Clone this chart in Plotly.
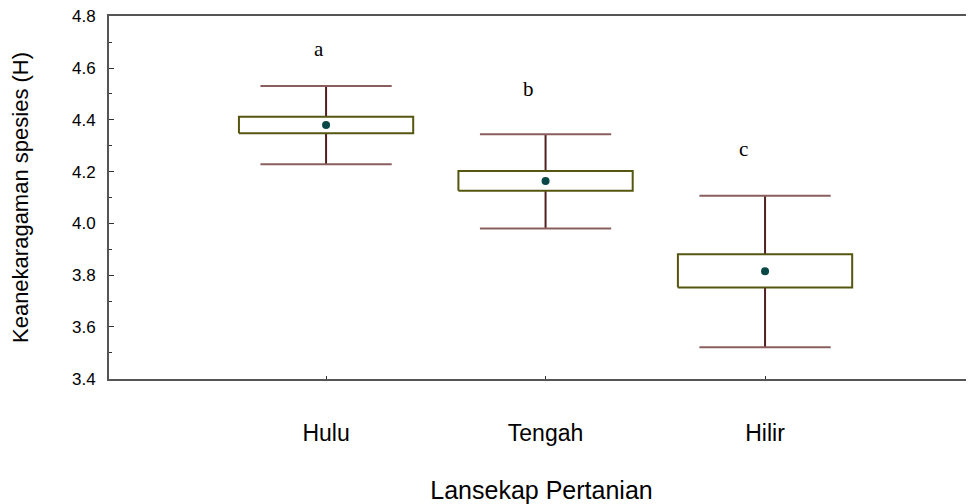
import plotly.graph_objects as go

categories = ["Hulu", "Tengah", "Hilir"]
means = [4.380, 4.164, 3.815]
box_low = [4.348, 4.126, 3.752]
box_high = [4.412, 4.202, 3.881]
whisker_low = [4.228, 3.980, 3.522]
whisker_high = [4.531, 4.344, 4.107]
letters = ["a", "b", "c"]
letter_x = [0.968, 1.923, 2.900]
letter_y = [4.673, 4.518, 4.287]
y_ticks = [3.4, 3.6, 3.8, 4.0, 4.2, 4.4, 4.6, 4.8]

pos = [1, 2, 3]
BOX_HALF = 0.397
CAP_HALF = 0.299

fig = go.Figure()

# whisker stems
wx, wy = [], []
for p, bl, bh, wl, wh in zip(pos, box_low, box_high, whisker_low, whisker_high):
    wx += [p, p, None, p, p, None]
    wy += [bh, wh, None, bl, wl, None]
fig.add_trace(go.Scatter(x=wx, y=wy, mode="lines",
                         line=dict(color="#4e2020", width=2), hoverinfo="skip", showlegend=False))

# caps
cx, cy = [], []
for p, wl, wh in zip(pos, whisker_low, whisker_high):
    cx += [p - CAP_HALF, p + CAP_HALF, None, p - CAP_HALF, p + CAP_HALF, None]
    cy += [wh, wh, None, wl, wl, None]
fig.add_trace(go.Scatter(x=cx, y=cy, mode="lines",
                         line=dict(color="#8a5e5e", width=2), hoverinfo="skip", showlegend=False))

# boxes
for p, bl, bh in zip(pos, box_low, box_high):
    fig.add_trace(go.Scatter(
        x=[p - BOX_HALF, p + BOX_HALF, p + BOX_HALF, p - BOX_HALF, p - BOX_HALF],
        y=[bl, bl, bh, bh, bl], mode="lines", fill="toself", fillcolor="white",
        line=dict(color="#55560f", width=2), hoverinfo="skip", showlegend=False))

# means
fig.add_trace(go.Scatter(x=pos, y=means, mode="markers",
                         marker=dict(color="#0a4848", size=8, symbol="circle"),
                         showlegend=False))

for t, lx, ly in zip(letters, letter_x, letter_y):
    fig.add_annotation(x=lx, y=ly, text=t, showarrow=False, xanchor="center", yanchor="middle",
                       font=dict(family="Liberation Serif, Times New Roman, serif", size=21, color="black"))

# page body has an 8px default margin: size/margins account for it
fig.update_layout(
    width=966, height=496,
    margin=dict(l=101, r=0, t=8, b=125),
    paper_bgcolor="white", plot_bgcolor="white",
    font=dict(family="Liberation Sans, Arial, sans-serif", color="black"),
    showlegend=False,
)
fig.update_xaxes(
    range=[0.011, 3.952], tickvals=pos, ticktext=categories,
    ticks="inside", ticklen=3, tickcolor="#333", tickwidth=1,
    showline=True, linecolor="#555", linewidth=2, mirror=True,
    showgrid=False, zeroline=False,
    tickfont=dict(size=23), ticklabelstandoff=32,
    title=dict(text="Lansekap Pertanian", font=dict(size=25), standoff=40),
)
fig.update_yaxes(
    range=[3.399, 4.801], tickvals=y_ticks, ticktext=[f"{v:.1f}" for v in y_ticks],
    ticks="inside", ticklen=5, tickcolor="#333", tickwidth=1,
    minor=dict(dtick=0.1, tick0=3.4, ticks="inside", ticklen=3, tickcolor="#333", showgrid=False),
    showline=True, linecolor="#555", linewidth=2, mirror=False,
    showgrid=False, zeroline=False, ticklabeloverflow="allow",
    tickfont=dict(size=17), ticklabelstandoff=8,
    title=dict(text="Keanekaragaman spesies (H)", font=dict(size=22), standoff=40),
)

fig.write_html("out.html")
